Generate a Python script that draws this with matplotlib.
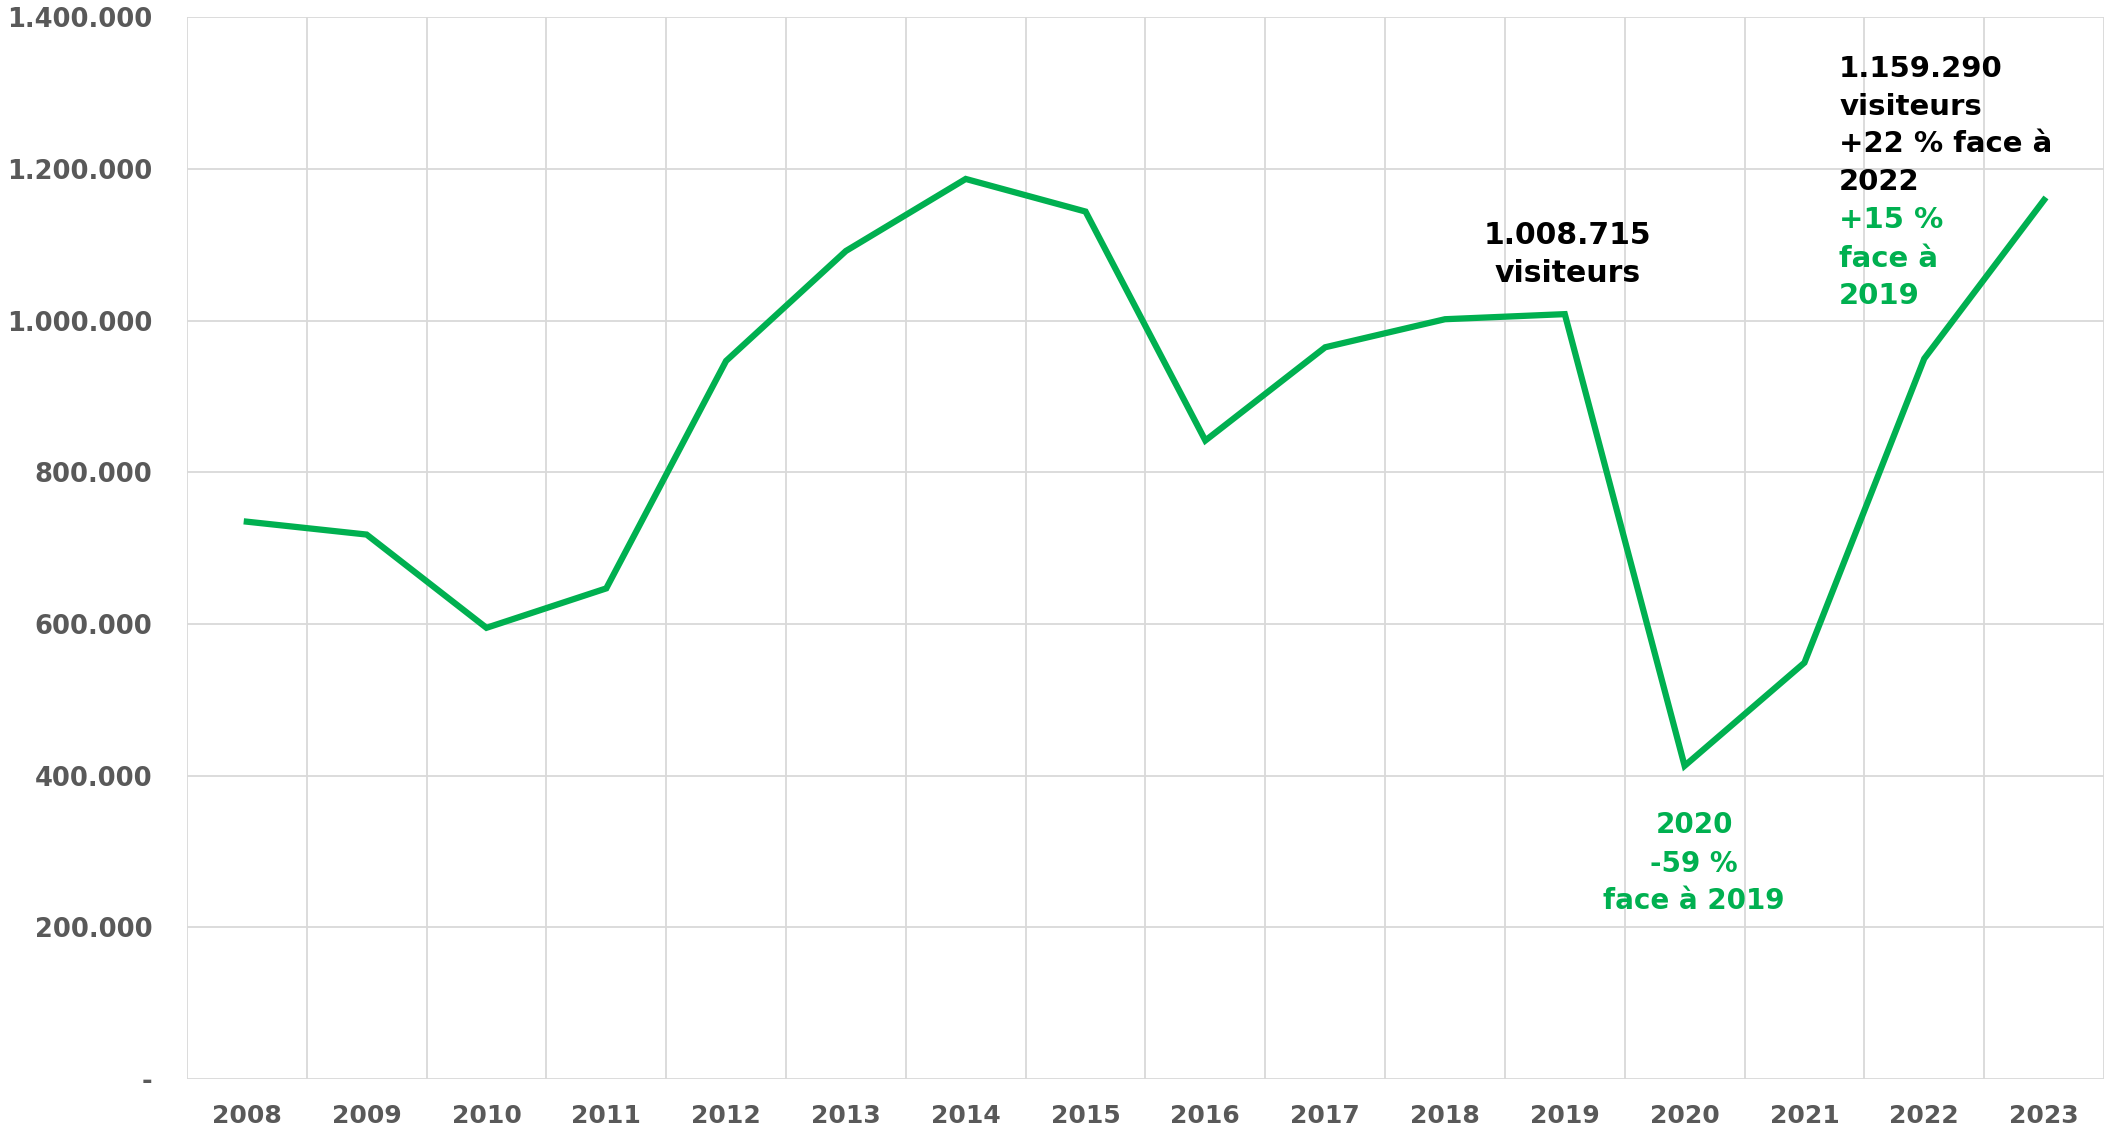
import matplotlib
matplotlib.use("Agg")
import matplotlib.pyplot as plt
from matplotlib.ticker import FixedLocator, FuncFormatter

years = ["2008", "2009", "2010", "2011", "2012", "2013", "2014", "2015",
         "2016", "2017", "2018", "2019", "2020", "2021", "2022", "2023"]
visitors = [735000, 718000, 595000, 647000, 947000, 1092000, 1187000, 1144000,
            842000, 965000, 1002000, 1008715, 413000, 549000, 950000, 1159290]
y_ticks = [0, 200000, 400000, 600000, 800000, 1000000, 1200000, 1400000]

GREEN = "#00B050"
GREY = "#595959"
GRID = "#D9D9D9"

plt.rcParams['font.family'] = ['DejaVu Sans']

fig = plt.figure(figsize=(21.12, 11.33), dpi=100)
ax = fig.add_axes([0.0885, 0.0477, 0.9962 - 0.0885, 0.9846 - 0.0477])

x = list(range(len(years)))
ax.plot(x, visitors, color=GREEN, linewidth=4.5, solid_joinstyle='miter', zorder=3)

ax.set_xlim(-0.5, len(years) - 0.5)
ax.set_ylim(0, 1400000)

ax.set_xticks(x)
ax.set_xticklabels(years)
ax.xaxis.set_minor_locator(FixedLocator([i - 0.5 for i in range(len(years) + 1)]))
ax.yaxis.set_major_locator(FixedLocator(y_ticks))

def fmt(v, pos):
    if v == 0:
        return "-"
    return f"{int(v):,}".replace(",", ".")

ax.yaxis.set_major_formatter(FuncFormatter(fmt))

ax.grid(True, axis='y', which='major', color=GRID, linewidth=1.3, zorder=0)
ax.grid(True, axis='x', which='minor', color=GRID, linewidth=1.3, zorder=0)
ax.grid(False, axis='x', which='major')
for s in ax.spines.values():
    s.set_visible(False)

ax.tick_params(axis='both', which='both', length=0)
ax.tick_params(axis='y', pad=25, labelsize=18.5, labelcolor=GREY)
ax.tick_params(axis='x', pad=18, labelsize=18, labelcolor=GREY)
for lab in ax.get_xticklabels() + ax.get_yticklabels():
    lab.set_fontweight('heavy')

# Annotations
# 2019
for txt, yb in [("1.008.715", 1100900), ("visiteurs", 1051600)]:
    ax.text(11.02, yb, txt, ha='center', va='baseline', fontsize=21.5,
            fontweight='bold', color='black')
# 2023
lines23 = [("1.159.290", 1321200, 'black'), ("visiteurs", 1271300, 'black'),
           ("+22 % face à", 1223100, 'black'), ("2022", 1172500, 'black'),
           ("+15 %", 1122000, GREEN), ("face à", 1071400, GREEN),
           ("2019", 1022200, GREEN)]
for txt, yb, c in lines23:
    ax.text(13.29, yb, txt, ha='left', va='baseline', fontsize=21,
            fontweight='bold', color=c)
# 2020
for txt, yb in [("2020", 324000), ("-59 %", 273400), ("face à 2019", 223800)]:
    ax.text(12.08, yb, txt, ha='center', va='baseline', fontsize=20,
            fontweight='bold', color=GREEN)

fig.savefig("out.png", dpi=100, facecolor='white')
